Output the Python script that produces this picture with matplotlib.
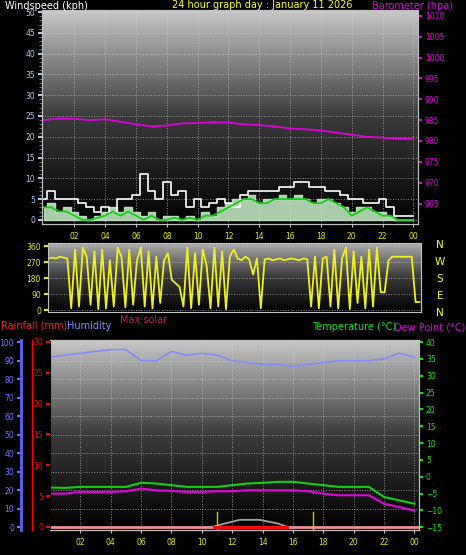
import numpy as np
import matplotlib
matplotlib.use("Agg")
import matplotlib.pyplot as plt
from matplotlib.colors import LinearSegmentedColormap

# ---------------- data ----------------
hours = np.arange(0, 25)
barometer = [985, 985.4, 985.3, 985, 985.2, 984.6, 984, 983.5, 983.7, 984.2, 984.3, 984.5,
             984.4, 984, 983.8, 983.5, 983, 982.8, 982.5, 982, 981.5, 981, 980.8, 980.5, 980.5]
half_hours = np.arange(0, 24.5, 0.5)
wind_gust = [5, 7, 5, 5, 5, 4, 3, 2, 3, 2, 5, 5, 6, 11, 7, 5, 9, 6, 7, 3, 5, 3, 4, 5, 4, 3,
             6, 7, 7, 7, 7, 8, 8, 9, 9, 8, 8, 7, 7, 6, 5, 5, 4, 4, 5, 3, 1, 1, 1]
wind_avg = [3, 3, 2, 2, 1, 0, 0, 0.5, 1, 2, 1, 2, 1, 0, 1, 0, 0, 0.5, 0, 0.5, 0, 1, 1, 2,
            3, 4, 5, 5, 4, 4, 5, 5, 5, 5, 5, 4, 4, 5, 4, 3, 1, 2, 3, 2, 1, 1, 0, 0, 0]
wind_fill = [3, 4, 2, 3, 2, 1, 0, 1, 2, 3, 2, 3, 2, 1, 2, 0, 1, 1, 0, 1, 0, 2, 1, 3,
             4, 5, 5, 6, 4, 5, 5, 6, 5, 6, 5, 4, 5, 5, 4, 3, 2, 3, 3, 2, 2, 1, 0, 0, 0]
quarter_hours = np.arange(0, 24.25, 0.25)
wind_dir = [290, 295, 290, 300, 295, 290,
            10, 340, 20, 350, 300, 30, 330, 5, 340, 10, 280, 20, 350, 300, 15, 340, 30, 280,
            350, 20, 330, 10, 300, 40,
            280, 320, 170, 150,
            130, 20, 350, 10, 320, 30, 340, 250, 10, 350, 20, 330, 5, 300,
            340, 290, 280, 300, 285, 200, 290, 10,
            285, 290, 280, 285, 290, 280, 285, 290, 285, 280, 290, 285,
            20, 300, 10, 290,
            300, 20, 340, 10, 290, 350, 5, 330, 40, 300, 10, 340, 20, 350,
            100, 100,
            280, 300, 300, 300, 300, 300, 300, 45, 45]
humidity = [92, 93, 94, 95, 96, 96, 90, 90, 95, 93, 94, 93, 90, 89, 88, 88, 87, 88, 89, 90,
            90, 90, 91, 94, 92]
temperature = [-3.2, -3.3, -3, -3, -3, -3, -1.8, -2, -2.5, -3, -3, -3, -2.5, -2, -1.8, -1.5,
               -1.5, -2, -2.5, -3, -3, -3, -6, -7, -8]
dew_point = [-5, -5, -4.5, -4.5, -4.5, -4.3, -3.5, -4, -4.2, -4.5, -4.5, -4.3, -4.3, -4, -4,
             -4, -4, -4.3, -5, -5.5, -5.5, -5.5, -8, -9, -10]
solar_hours = [10.6, 11.5, 12.5, 13.8, 15.0, 15.7]
solar_max = [0, 2, 4, 4, 2, 0]
sun_marks = [11.0, 17.3]
hour_labels = ["02", "04", "06", "08", "10", "12", "14", "16", "18", "20", "22", "00"]
hour_ticks = [2, 4, 6, 8, 10, 12, 14, 16, 18, 20, 22, 24]

W, H = 466, 555
fig = plt.figure(figsize=(W / 100, H / 100), dpi=100, facecolor="black")
tk = 5.5
tf = 7

def rect(l, t, r, b):
    return [l / W, 1 - b / H, (r - l) / W, (b - t) / H]

def gradient(ax, top="#c8c8c8"):
    g = np.linspace(1, 0, 256).reshape(-1, 1)
    cm = LinearSegmentedColormap.from_list("g", ["#000000", "#3a3a3a", top])
    ax.imshow(g, extent=[0, 1, 0, 1], transform=ax.transAxes, aspect="auto",
              cmap=cm, zorder=0)

def style(ax, ycol):
    ax.set_facecolor("black")
    for s in ax.spines.values():
        s.set_color("#c0c0c0")
    ax.tick_params(axis="y", colors=ycol, labelsize=tk, length=3, width=1.5, pad=2)
    ax.tick_params(axis="x", colors="#c0c0c0", labelcolor="#e8e800", labelsize=tk, length=2)
    ax.set_xticks(hour_ticks, hour_labels)
    ax.grid(True, color="#d8d8d8", linestyle=":", linewidth=0.7, alpha=0.6)

# ---------------- top panel ----------------
ax1 = fig.add_axes(rect(42, 10, 418, 224))
gradient(ax1)
style(ax1, "#a8c8f0")
ax1.set_xlim(-0.1, 24.3)
ax1.set_ylim(-1, 50.5)
ax1.set_yticks(range(0, 51, 5))
ax1.set_yticks(range(0, 51, 1), minor=True)
ax1.tick_params(axis="y", which="minor", colors="#808080", length=2)
ax1.fill_between(half_hours, 0, wind_fill, step="mid", color="#c8f0c8", alpha=0.85, zorder=2)
ax1.step(half_hours, wind_gust, where="mid", color="white", lw=1.2, zorder=3)
ax1.plot(half_hours, wind_avg, color="#10d010", lw=1.3, zorder=4)
ax1b = ax1.twinx()
ax1b.set_ylim(960.1, 1011.4)
ax1b.plot(hours, barometer, color="#e000e0", lw=1.3)
ax1b.set_yticks([965, 970, 975, 980, 985, 990, 995, 1000, 1005, 1010])
ax1b.tick_params(axis="y", colors="#e000e0", labelsize=tk, length=3, width=1.5, pad=2)
for s in ax1b.spines.values():
    s.set_color("#c0c0c0")

fig.text(5 / W, 1 - 6 / H, "Windspeed (kph)", color="white", fontsize=tf, va="center")
fig.text(172 / W, 1 - 5 / H, "24 hour graph day : January 11 2026", color="#ffff00",
         fontsize=tf, va="center")
fig.text(372 / W, 1 - 6 / H, "Barometer (hpa)", color="#e000e0", fontsize=tf, va="center")

# ---------------- middle panel ----------------
ax2 = fig.add_axes(rect(48, 243, 421, 312))
gradient(ax2, "#b0b0b0")
style(ax2, "#e8e800")
ax2.set_xlim(0, 24.1)
ax2.set_ylim(-11, 377)
ax2.set_yticks([0, 90, 180, 270, 360])
ax2.set_xticks([])
ax2.plot(quarter_hours, wind_dir, color="#f0f020", lw=1.3)
for i, c in enumerate(["N", "W", "S", "E", "N"]):
    fig.text(440 / W, 1 - (245 + i * 17) / H, c, color="#ffff00", fontsize=7.5,
             ha="center", va="center")

# ---------------- bottom panel ----------------
ax3 = fig.add_axes(rect(50, 340, 419, 530))
gradient(ax3)
style(ax3, "#7070ff")
ax3.set_xlim(0, 24.3)
ax3.set_ylim(-1.5, 101.2)
ax3.set_yticks(range(0, 101, 10))
ax3.spines["left"].set_position(("outward", 21))
ax3.spines["left"].set_color("#6060ff")
ax3.spines["left"].set_linewidth(2)
ax3.plot(hours, humidity, color="#8888ff", lw=1.2, zorder=3)
ax3.plot(solar_hours, solar_max, color="#a0a0a0", lw=1.3, zorder=3)
for s in sun_marks:
    ax3.plot([s, s], [-1, 8], color="#c8c800", lw=1, zorder=3)
ax3.plot([0, 24.3], [0, 0], color="#f09090", lw=2, zorder=2)
ax3.plot([10.8, 15.6], [0, 0], color="red", lw=2, zorder=3)

ax3r = ax3.twinx()
ax3r.set_ylim(-0.5, 30.3)
ax3r.yaxis.set_ticks_position("left")
ax3r.spines["left"].set_visible(False)
ax3r.spines["right"].set_visible(False)
ax3r.set_yticks(range(0, 31, 5))
ax3r.tick_params(axis="y", colors="red", labelsize=tk, length=3, width=1.5, pad=2)
fig.add_artist(plt.Line2D([32 / W, 32 / W], [1 - 340 / H, 1 - 530 / H], color="red", lw=1))

ax3t = ax3.twinx()
ax3t.set_ylim(-15.8, 40.6)
ax3t.set_yticks(range(-15, 41, 5))
ax3t.tick_params(axis="y", colors="#10e010", labelsize=tk, length=3, width=1.5, pad=2)
ax3t.plot(hours, temperature, color="#10d010", lw=1.5)
ax3t.plot(hours, dew_point, color="#e000e0", lw=1.5)
for a in (ax3r, ax3t):
    for s in ("top", "bottom"):
        a.spines[s].set_color("#c0c0c0")
ax3t.spines["right"].set_color("#c0c0c0")

fig.text(1 / W, 1 - 326 / H, "Rainfall (mm)", color="#ff2020", fontsize=tf, va="center")
fig.text(67 / W, 1 - 326 / H, "Humidity", color="#8888ff", fontsize=tf, va="center")
fig.text(120 / W, 1 - 320 / H, "Max solar", color="#c02040", fontsize=tf, va="center")
fig.text(312 / W, 1 - 327 / H, "Temperature (°C)", color="#10e010", fontsize=tf, va="center")
fig.text(465 / W, 1 - 327 / H, "Dew Point (°C)", color="#e000e0", fontsize=tf, va="center",
         ha="right")

fig.savefig("out.png", dpi=100, facecolor="black")
